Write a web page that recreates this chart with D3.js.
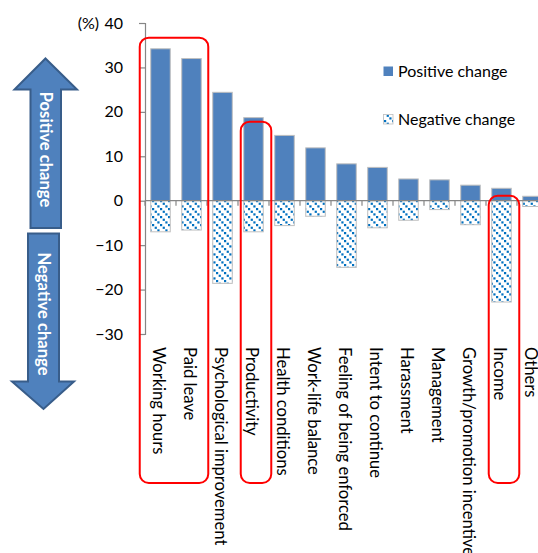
<!DOCTYPE html>
<html><head><meta charset="utf-8">
<script src="https://cdn.jsdelivr.net/npm/d3@7"></script>
<style>
html,body{margin:0;padding:0;background:#fff;overflow:hidden}
svg{display:block;font-family:Lato,"Open Sans",sans-serif}
</style></head>
<body>
<script>
const categories = ["Working hours","Paid leave","Psychological improvement","Productivity","Health conditions","Work-life balance","Feeling of being enforced","Intent to continue","Harassment","Management","Growth/promotion incentive","Income","Others"];
const positiveValues = [34.2, 32.0, 24.4, 18.7, 14.7, 11.9, 8.3, 7.5, 4.9, 4.7, 3.5, 2.8, 1.0];
const negativeValues = [-7.0, -6.6, -18.6, -7.0, -5.6, -3.5, -15.0, -6.1, -4.4, -2.0, -5.4, -22.8, -1.3];
const yTicks = [-30, -20, -10, 0, 10, 20, 30, 40];
const seriesNames = ["Positive change", "Negative change"];
const highlightGroups = [["Working hours","Paid leave"],["Productivity"],["Income"]];
const highlightTops = [36.7, 17.8, 1.1];
const arrowLabels = ["Positive change", "Negative change"];

const W = 538, H = 553;
const svg = d3.select("body").append("svg").attr("width", W).attr("height", H);

const defs = svg.append("defs");
const pat = defs.append("pattern").attr("id","diag").attr("patternUnits","userSpaceOnUse")
  .attr("width",8).attr("height",8);
pat.append("rect").attr("width",8).attr("height",8).attr("fill","#fff");
[0,2.67,5.33].forEach(o=>{
  pat.append("rect").attr("x",o).attr("y",o).attr("width",2.2).attr("height",2.2).attr("fill","#0070c0");
});

const x = d3.scaleBand().domain(categories).range([145, 145 + 13*31]).paddingInner(0.37).paddingOuter(0.185);
const y = d3.scaleLinear().domain([-30, 40]).range([334, 23]);

// y axis
const yAxis = svg.append("g").attr("transform","translate(145,0)")
  .call(d3.axisLeft(y).tickValues(yTicks).tickSize(6).tickPadding(16).tickFormat(d3.format("d")));
yAxis.select(".domain").attr("stroke","#868686").attr("stroke-width",1.2);
yAxis.selectAll(".tick line").attr("stroke","#868686").attr("stroke-width",1.2);
yAxis.selectAll(".tick text").attr("font-size",16).attr("fill","#000").attr("font-family","Lato");

svg.append("text").attr("x",99).attr("y",23).attr("dy","0.35em").attr("text-anchor","end")
  .attr("font-size",16).text("(%)");

// bars
const bw = x.bandwidth();
svg.append("g").selectAll("rect").data(categories).join("rect")
  .attr("x", d=>x(d)).attr("width", bw)
  .attr("y", (d,i)=>y(positiveValues[i]))
  .attr("height", (d,i)=>y(0)-y(positiveValues[i]))
  .attr("fill","#4f81bd").attr("stroke","#bfbfbf").attr("stroke-width",1);
svg.append("g").selectAll("rect").data(categories).join("rect")
  .attr("x", d=>x(d)).attr("width", bw)
  .attr("y", y(0))
  .attr("height", (d,i)=>y(negativeValues[i])-y(0))
  .attr("fill","url(#diag)").attr("stroke","#bfbfbf").attr("stroke-width",1);

// x axis line with ticks
const xg = svg.append("g");
xg.append("line").attr("x1",145).attr("x2",145+13*31).attr("y1",y(0)).attr("y2",y(0))
  .attr("stroke","#868686").attr("stroke-width",1.2);
xg.selectAll("line.t").data(d3.range(14)).join("line").attr("class","t")
  .attr("x1",i=>145+i*x.step()).attr("x2",i=>145+i*x.step())
  .attr("y1",y(0)).attr("y2",y(0)+5).attr("stroke","#868686").attr("stroke-width",1.2);

// category labels (rotated)
svg.append("g").selectAll("text").data(categories).join("text")
  .attr("transform", d=>`translate(${x(d)+bw/2-1.5},347) rotate(90)`)
  .attr("dy","0.35em").attr("font-size",16.6).attr("fill","#000").text(d=>d);

// legend
const lg = svg.append("g");
seriesNames.forEach((n,i)=>{
  const cy = 71 + i*48;
  lg.append("rect").attr("x",383.5).attr("y",cy-4.5).attr("width",9.5).attr("height",9.5)
    .attr("fill", i===0 ? "#4f81bd" : "url(#diag)").attr("stroke", i===0?"none":"#bfbfbf").attr("stroke-width",0.8);
  lg.append("text").attr("x",398).attr("y",cy).attr("dy","0.35em").attr("font-size",16).text(n);
});

// highlight boxes
highlightGroups.forEach((g,i)=>{
  const x0 = x(g[0]) - (i===0 ? 11 : 3);
  const x1 = x(g[g.length-1]) + bw + (i===0 ? 7 : 8);
  const t = y(highlightTops[i]);
  svg.append("rect").attr("x",x0).attr("y",t).attr("width",x1-x0).attr("height",483-t)
    .attr("rx",9).attr("ry",9).attr("fill","none").attr("stroke","#ff0000").attr("stroke-width",2);
});

// arrows
const arrowFill="#4f81bd", arrowStroke="#385d8a";
svg.append("path").attr("d","M45.5,58.5 L77,89.5 L61,89.5 L61,228 L30.5,228 L30.5,89.5 L14.5,89.5 Z")
  .attr("fill",arrowFill).attr("stroke",arrowStroke).attr("stroke-width",2).attr("stroke-linejoin","miter");
svg.append("path").attr("d","M28,233.5 L59,233.5 L59,381.5 L74,381.5 L43.5,409 L12,381.5 L28,381.5 Z")
  .attr("fill",arrowFill).attr("stroke",arrowStroke).attr("stroke-width",2).attr("stroke-linejoin","miter");
svg.append("text").attr("transform","translate(45.5,149.5) rotate(90)").attr("text-anchor","middle")
  .attr("dy","0.35em").attr("font-size",16.6).attr("font-weight","bold").attr("fill","#fff").text(arrowLabels[0]);
svg.append("text").attr("transform","translate(43.5,314) rotate(90)").attr("text-anchor","middle")
  .attr("dy","0.35em").attr("font-size",16.6).attr("font-weight","bold").attr("fill","#fff").text(arrowLabels[1]);
</script>
</body></html>
